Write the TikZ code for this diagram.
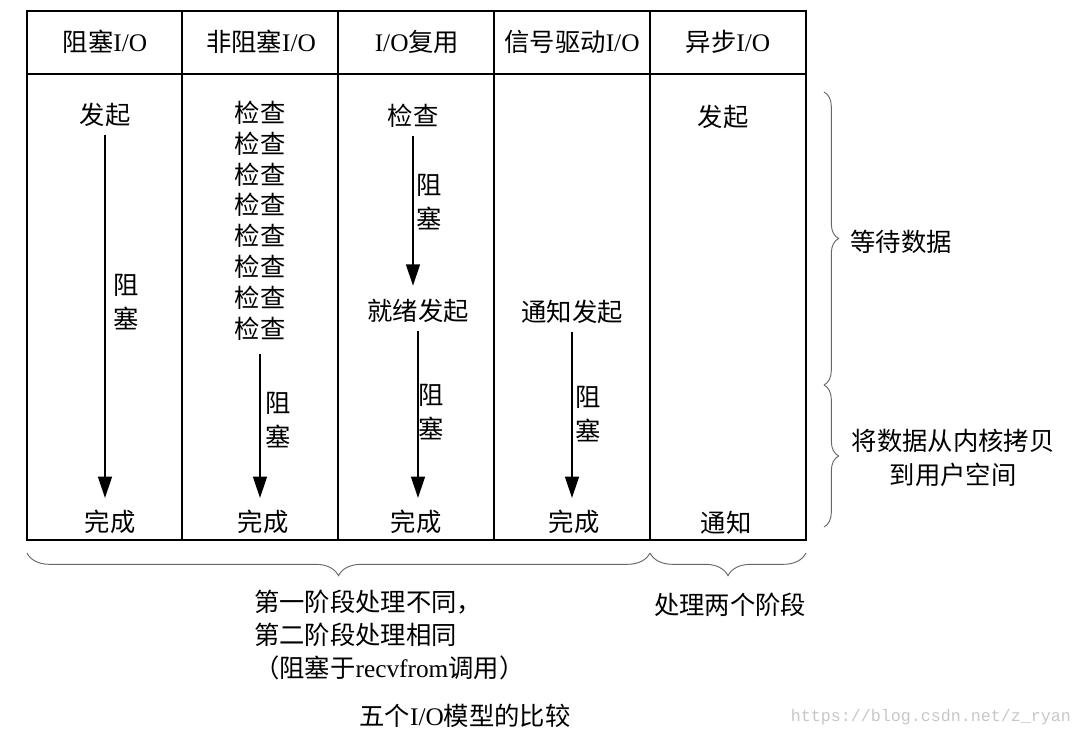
\documentclass[tikz,border=0pt]{standalone}
\usepackage{fontspec}
\setmainfont{Noto Sans CJK SC}
\newfontfamily\lat{Liberation Serif}
\newfontfamily\wmfont{Liberation Mono}
\usetikzlibrary{arrows.meta,decorations.pathreplacing}
\begin{document}
\begin{tikzpicture}[x=0.75pt,y=-0.75pt,
  txt/.style={inner sep=0pt, font=\fontsize{19}{23.1}\selectfont},
  lbl/.style={inner sep=0pt, align=center, font=\fontsize{19}{25}\selectfont},
  frame/.style={line width=1.4pt},
  arr/.style={line width=1.3pt, -{Triangle[length=16pt,width=10.5pt]}, shorten <=6pt, shorten >=9pt},
  brc/.style={decorate, decoration={brace, amplitude=#1}, draw=black!60, line width=0.7pt},
  brc/.default=11pt,
]
\useasboundingbox (0,0) rectangle (1083,736);

% table frame
\draw[frame] (27,11) rectangle (806,540);
\draw[frame] (27,74) -- (806,74);
\foreach \x in {182,338,494,650} \draw[frame] (\x,11) -- (\x,540);

% headers
\node[txt] (h1) at (105,42) {阻塞{\lat I/O}};
\node[txt] (h2) at (261,42) {非阻塞{\lat I/O}};
\node[txt] (h3) at (417,42) {{\lat I/O}复用};
\node[txt] (h4) at (572,42) {信号驱动{\lat I/O}};
\node[txt] (h5) at (728,42) {异步{\lat I/O}};

% column 1
\node[txt] (s1) at (105,115) {发起};
\node[txt] (e1) at (110,522) {完成};
\node[lbl] (b1) at (126,302) {阻\\塞};
\draw[arr] (s1.south) -- (s1.south |- e1.north);

% column 2
\node[txt, align=center] (n2) at (260,220.5) {检查\\检查\\检查\\检查\\检查\\检查\\检查\\检查};
\node[txt] (e2) at (263,522) {完成};
\node[lbl] (b2) at (278,420) {阻\\塞};
\draw[arr, shorten <=10pt] (n2.south) -- (n2.south |- e2.north);

% column 3
\node[txt] (c3) at (413,116) {检查};
\node[lbl] (b3a) at (429,202) {阻\\塞};
\node[txt] (r3) at (418,311) {就绪发起};
\node[lbl] (b3b) at (431,412) {阻\\塞};
\node[txt] (e3) at (416,522) {完成};
\draw[arr, shorten >=10pt] (c3.south) -- (c3.south |- r3.north);
\draw[arr] (r3.south) -- (r3.south |- e3.north);

% column 4
\node[txt] (r4) at (572,312) {通知发起};
\node[lbl] (b4) at (588,414) {阻\\塞};
\node[txt] (e4) at (574,522) {完成};
\draw[arr] (r4.south) -- (r4.south |- e4.north);

% column 5
\node[txt] (s5) at (723,117) {发起};
\node[txt] (e5) at (726,523) {通知};

% right braces
\draw[brc] (824,92) -- (824,385);
\draw[brc] (824,385) -- (824,527);
\node[txt] (wait) at (901,242) {等待数据};
\node[lbl, font=\fontsize{19}{25}\selectfont] (copy) at (953,458) {将数据从内核拷贝\\到用户空间};

% bottom braces
\draw[brc=17pt] (650,553) -- (27,553);
\draw[brc=17pt] (806,553) -- (650,553);
\node[txt, align=left, anchor=west, font=\fontsize{19}{24.5}\selectfont] (diff) at (254,635)
  {第一阶段处理不同，\\第二阶段处理相同\\（阻塞于{\lat recvfrom}调用）};
\node[txt] (both) at (730,605) {处理两个阶段};

% caption
\node[txt] (title) at (465,716) {五个{\lat I/O}模型的比较};
\node[inner sep=0pt, text=black!22, font=\wmfont\fontsize{12.5}{14}\selectfont] (wm) at (931,717) {https://blog.csdn.net/z\_ryan};
\end{tikzpicture}
\end{document}
